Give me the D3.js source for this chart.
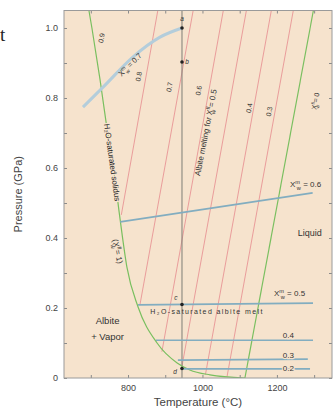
<!DOCTYPE html>
<html>
<head>
<meta charset="utf-8">
<script src="https://cdn.jsdelivr.net/npm/d3@7"></script>
<style>
  body { margin: 0; background: #fff; }
  svg { display: block; font-family: "Liberation Sans", Arial, sans-serif; }
</style>
</head>
<body>
<svg id="chart" width="336" height="410"></svg>
<script>
// H2O-saturated solidus (X^fl_w = 1)
const wetSolidusT = [695, 703, 725, 746, 765, 779, 797, 827, 878, 932, 966, 1020, 1114];
const wetSolidusP = [1.05, 1.0, 0.851, 0.694, 0.566, 0.451, 0.317, 0.203, 0.1, 0.043, 0.023, 0.009, 0];

// dry solidus (X^fl_w = 0)
const drySolidusT = [1114, 1298];
const drySolidusP = [0, 1.05];

// albite melting for mixed fluids (red lines)
const fluidTopT = [880, 975, 1056, 1118, 1185, 1244];
const fluidTopP = 1.05;
const fluidEndT = [782, 832, 891, 944, 1008, 1066];
const fluidEndP = [0.466, 0.209, 0.075, 0.028, 0.01, 0.004];
const fluidLabels = ['0.9', '0.8', '0.7', '0.6', '0.4', '0.3'];
const fluidLabelT = [735, 835, 918, 996, 1132, 1186];
const fluidLabelP = [0.97, 0.86, 0.83, 0.82, 0.77, 0.76];

// water content of melt isopleths (blue lines)
const melt07T = [679, 733, 813, 886, 945];
const melt07P = [0.774, 0.831, 0.917, 0.974, 1.0];
const meltLines = [
  { v: 0.6, t: [779, 1296], p: [0.446, 0.529] },
  { v: 0.5, t: [827, 1297], p: [0.209, 0.214] },
  { v: 0.4, t: [875, 1297], p: [0.108, 0.108] },
  { v: 0.3, t: [934, 1283], p: [0.051, 0.054] },
  { v: 0.2, t: [948, 1289], p: [0.026, 0.026] }
];

// points on the 945 °C section
const sectionT = 945;
const pointNames = ['a', 'b', 'c', 'd'];
const pointP = [1.0, 0.903, 0.21, 0.027];

const yTicks = [0, 0.1, 0.2, 0.3, 0.4, 0.5, 0.6, 0.7, 0.8, 0.9, 1.0];
const xTicks = [700, 800, 900, 1000, 1100, 1200, 1300];

const svg = d3.select('#chart');
const margin = { top: 10.5, right: 4, bottom: 32, left: 64 };
const width = 336, height = 410;

const x = d3.scaleLinear().domain([628, 1348]).range([margin.left, width - margin.right]);
const y = d3.scaleLinear().domain([0, 1.05]).range([height - margin.bottom, margin.top]);

// stray letter of the surrounding page
svg.append('text')
  .attr('x', 0).attr('y', 41)
  .attr('font-family', '"Liberation Serif", serif')
  .attr('font-size', 19).attr('fill', '#222')
  .text('t');

svg.append('defs').append('clipPath').attr('id', 'plot-clip')
  .append('rect')
  .attr('x', x.range()[0]).attr('y', y.range()[1])
  .attr('width', x.range()[1] - x.range()[0])
  .attr('height', y.range()[0] - y.range()[1]);

svg.append('rect')
  .attr('x', x.range()[0]).attr('y', y.range()[1])
  .attr('width', x.range()[1] - x.range()[0])
  .attr('height', y.range()[0] - y.range()[1])
  .attr('fill', '#f6e3cd');

const plot = svg.append('g').attr('clip-path', 'url(#plot-clip)');

const line = d3.line().x(d => x(d[0])).y(d => y(d[1]));
const curve = d3.line().x(d => x(d[0])).y(d => y(d[1])).curve(d3.curveMonotoneX);

// red fluid lines
fluidTopT.forEach((t, i) => {
  plot.append('path')
    .datum([[fluidEndT[i], fluidEndP[i]], [t, fluidTopP]])
    .attr('d', line)
    .attr('fill', 'none')
    .attr('stroke', '#e68a8e')
    .attr('stroke-width', 0.8);
});

// section line
plot.append('path')
  .datum([[sectionT, 0], [sectionT, 1.05]])
  .attr('d', line)
  .attr('stroke', '#7d7d75')
  .attr('stroke-width', 1);

// solidi
plot.append('path')
  .datum(wetSolidusT.map((t, i) => [t, wetSolidusP[i]]))
  .attr('d', curve)
  .attr('fill', 'none')
  .attr('stroke', '#79bf5f')
  .attr('stroke-width', 1.2);

plot.append('path')
  .datum(drySolidusT.map((t, i) => [t, drySolidusP[i]]))
  .attr('d', line)
  .attr('fill', 'none')
  .attr('stroke', '#79bf5f')
  .attr('stroke-width', 1.2);

// melt water isopleths
plot.append('path')
  .datum(melt07T.map((t, i) => [t, melt07P[i]]))
  .attr('d', curve)
  .attr('fill', 'none')
  .attr('stroke', '#b3cddb')
  .attr('stroke-width', 3);

meltLines.forEach(m => {
  plot.append('path')
    .datum(m.t.map((t, i) => [t, m.p[i]]))
    .attr('d', line)
    .attr('fill', 'none')
    .attr('stroke', '#82adc0')
    .attr('stroke-width', 1.6);
});

// points
plot.selectAll('circle.pt')
  .data(pointP)
  .join('circle')
  .attr('class', 'pt')
  .attr('cx', x(sectionT))
  .attr('cy', d => y(d))
  .attr('r', 1.8)
  .attr('fill', '#222');

const ptLabelDx = [0, 5, -6, -7];
const ptLabelDy = [-7, 2, -5, 5];
pointNames.forEach((n, i) => {
  svg.append('text')
    .attr('x', x(sectionT) + ptLabelDx[i])
    .attr('y', y(pointP[i]) + ptLabelDy[i])
    .attr('text-anchor', 'middle')
    .attr('font-size', 6.5)
    .attr('font-style', 'italic')
    .attr('fill', '#333')
    .text(n);
});

// axes
const axisLeft = d3.axisLeft(y).tickValues(yTicks).tickSize(-3).tickPadding(6)
  .tickFormat(d => (Math.round(d * 10) % 2 === 0 ? (d === 0 ? '0' : d.toFixed(1)) : ''));
const axisRight = d3.axisRight(y).tickValues(yTicks).tickSize(-3).tickFormat('');
const axisBottom = d3.axisBottom(x).tickValues(xTicks).tickSize(-3).tickPadding(7)
  .tickFormat(d => (d % 200 === 0 ? d : ''));
const axisTop = d3.axisTop(x).tickValues(xTicks).tickSize(-3).tickFormat('');

const gl = svg.append('g').attr('transform', `translate(${margin.left},0)`).call(axisLeft);
const gr = svg.append('g').attr('transform', `translate(${width - margin.right},0)`).call(axisRight);
const gb = svg.append('g').attr('transform', `translate(0,${height - margin.bottom})`).call(axisBottom);
const gt = svg.append('g').attr('transform', `translate(0,${margin.top})`).call(axisTop);

[gl, gr, gb, gt].forEach(g => {
  g.select('.domain').remove();
  g.selectAll('.tick line').attr('stroke', '#8a8a8a');
  g.selectAll('.tick text').attr('font-size', 9).attr('fill', '#444')
    .attr('font-family', '"Liberation Sans", Arial, sans-serif');
});

svg.append('rect')
  .attr('x', x.range()[0]).attr('y', y.range()[1])
  .attr('width', x.range()[1] - x.range()[0])
  .attr('height', y.range()[0] - y.range()[1])
  .attr('fill', 'none')
  .attr('stroke', '#9a9a9a')
  .attr('stroke-width', 1);

svg.append('text')
  .attr('transform', `translate(22,${(y.range()[0] + y.range()[1]) / 2}) rotate(-90)`)
  .attr('text-anchor', 'middle')
  .attr('font-size', 11)
  .attr('fill', '#444')
  .text('Pressure (GPa)');

svg.append('text')
  .attr('x', (x.range()[0] + x.range()[1]) / 2)
  .attr('y', 406)
  .attr('text-anchor', 'middle')
  .attr('font-size', 11.5)
  .attr('fill', '#444')
  .text('Temperature (°C)');

// helper: X with superscript/subscript
function xText(g, sup, rest, size) {
  const t = g.append('text').attr('font-size', size).attr('fill', '#333');
  t.append('tspan').text('X');
  t.append('tspan').attr('dy', -size * 0.4).attr('font-size', size * 0.7).text(sup);
  t.append('tspan').attr('dx', -size * 0.7 * 0.55 * sup.length).attr('dy', size * 0.75)
    .attr('font-size', size * 0.7).text('w');
  t.append('tspan').attr('dy', -size * 0.35).text(rest);
  return t;
}

function halo(t) {
  return t.attr('stroke', '#f6e3cd').attr('stroke-width', 2.5).attr('paint-order', 'stroke');
}

// red line labels
fluidLabels.forEach((l, i) => {
  svg.append('text')
    .attr('transform', `translate(${x(fluidLabelT[i])},${y(fluidLabelP[i])}) rotate(-80)`)
    .attr('text-anchor', 'middle')
    .attr('font-size', 7)
    .attr('fill', '#333')
    .text(l);
});

{
  const g = svg.append('g').attr('transform', `translate(${x(1310)},${y(0.79)}) rotate(-80)`);
  xText(g, 'fl', ' = 0', 7).attr('text-anchor', 'middle');
}

// region labels
halo(svg.append('text')
  .attr('transform', `translate(${x(750)},${y(0.615)}) rotate(82)`)
  .attr('text-anchor', 'middle')
  .attr('font-size', 8)
  .attr('fill', '#222')
  .text('H₂O-saturated solidus'));

{
  const g = svg.append('g').attr('transform', `translate(${x(765)},${y(0.36)}) rotate(78)`);
  const t = xText(g, 'fl', ' = 1)', 8).attr('text-anchor', 'middle');
  t.insert('tspan', ':first-child').text('(');
}

{
  const g = svg.append('g').attr('transform', `translate(${x(1016)},${y(0.7)}) rotate(-79)`);
  const t = xText(g, 'fl', ' = 0.5', 8).attr('text-anchor', 'middle');
  t.insert('tspan', ':first-child').text('Albite melting for ');
}

{
  const g = svg.append('g').attr('transform', `translate(${x(810)},${y(0.89)}) rotate(-45)`);
  xText(g, 'm', ' = 0.7', 7.5).attr('text-anchor', 'middle');
}

{
  const g = svg.append('g').attr('transform', `translate(${x(1235)},${y(0.545)})`);
  xText(g, 'm', ' = 0.6', 8);
}
{
  const g = svg.append('g').attr('transform', `translate(${x(1192)},${y(0.235)})`);
  xText(g, 'm', ' = 0.5', 8);
}

const smallMeltP = [0.115, 0.058, 0.02];
['0.4', '0.3', '0.2'].forEach((l, i) => {
  halo(svg.append('text')
    .attr('x', x(1216)).attr('y', y(smallMeltP[i]))
    .attr('font-size', 8)
    .attr('fill', '#333')
    .text(l));
});

svg.append('text')
  .attr('x', x(860)).attr('y', y(0.182))
  .attr('font-size', 7)
  .attr('fill', '#333')
  .attr('textLength', 112)
  .text('H₂O-saturated albite melt');

svg.append('text')
  .attr('x', x(745)).attr('y', y(0.155))
  .attr('text-anchor', 'middle')
  .attr('font-size', 9.5)
  .attr('fill', '#333')
  .text('Albite');
svg.append('text')
  .attr('x', x(745)).attr('y', y(0.11))
  .attr('text-anchor', 'middle')
  .attr('font-size', 9.5)
  .attr('fill', '#333')
  .text('+ Vapor');

svg.append('text')
  .attr('x', x(1288)).attr('y', y(0.405))
  .attr('text-anchor', 'middle')
  .attr('font-size', 9)
  .attr('fill', '#333')
  .text('Liquid');
</script>
</body>
</html>
